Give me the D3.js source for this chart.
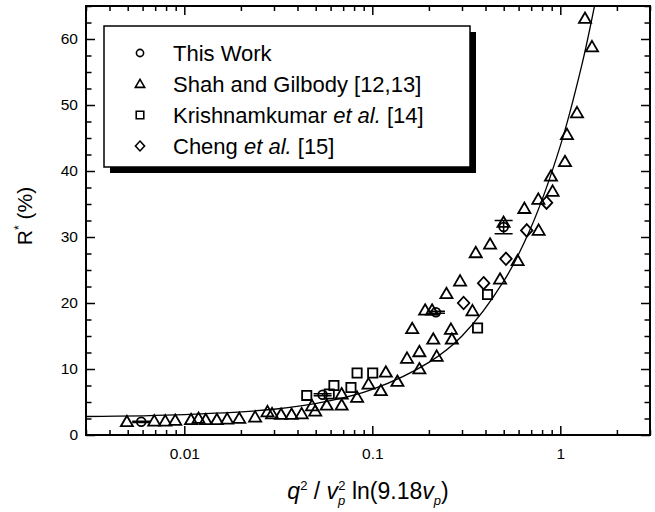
<!DOCTYPE html>
<html>
<head>
<meta charset="utf-8">
<script src="https://cdn.jsdelivr.net/npm/d3@7"></script>
<style>
  body { margin: 0; background: #fff; }
  text { font-family: "Liberation Sans", Arial, Helvetica, sans-serif; fill: #000; }
</style>
</head>
<body>
<script>
// ---- data ----
const thisWorkX = [0.0059, 0.0544, 0.218, 0.4995];
const thisWorkR = [2.0, 6.1, 18.6, 31.5];
const thisWorkErr = [0.1, 0.15, 0.15, 1.0];

const shahX = [0.00495, 0.00692, 0.00792, 0.00895, 0.01086, 0.0119, 0.0130, 0.0149, 0.0169, 0.0196,
  0.0238, 0.0277, 0.0293, 0.0327, 0.0372, 0.0421, 0.0478, 0.0497, 0.0572, 0.0687,
  0.0687, 0.0830, 0.0955, 0.111, 0.118, 0.136, 0.153, 0.163, 0.178, 0.178,
  0.191, 0.208, 0.211, 0.220, 0.248, 0.262, 0.265, 0.293, 0.341, 0.355,
  0.423, 0.478, 0.499, 0.593, 0.644, 0.767, 0.764, 0.892, 0.910, 1.059,
  1.085, 1.227, 1.353, 1.474];
const shahR = [2.0, 2.1, 2.1, 2.2, 2.3, 2.5, 2.3, 2.3, 2.4, 2.5,
  2.7, 3.5, 3.2, 3.1, 3.1, 3.2, 4.4, 3.6, 4.5, 6.2,
  4.5, 5.7, 7.7, 6.7, 9.5, 8.1, 11.6, 16.1, 12.6, 10.0,
  18.9, 18.9, 14.5, 11.9, 21.4, 16.0, 14.5, 23.3, 18.8, 27.6,
  28.9, 23.6, 32.2, 26.4, 34.3, 31.0, 35.7, 39.2, 36.9, 41.4,
  45.5, 48.8, 63.1, 58.8];

const krishX = [0.0448, 0.059, 0.0625, 0.077, 0.083, 0.1005, 0.363, 0.410];
const krishR = [6.0, 6.2, 7.5, 7.2, 9.4, 9.4, 16.2, 21.3];

const chengX = [0.306, 0.391, 0.514, 0.663, 0.845];
const chengR = [20.0, 23.0, 26.7, 31.0, 35.2];

// points along the drawn fit curve
const fitX = [0.003, 0.01, 0.03, 0.06, 0.1, 0.2, 0.3, 0.5, 0.7, 1.0, 1.3, 1.52];
const fitR = [2.8, 3.1, 3.9, 5.2, 6.9, 11.0, 15.0, 23.3, 31.5, 43.8, 56.0, 65.0];

const xMajor = [0.01, 0.1, 1];
const yMajor = [0, 10, 20, 30, 40, 50, 60];
const legendLabels = ["This Work", "Shah and Gilbody [12,13]", "Krishnamkumar |et al.| [14]", "Cheng |et al.| [15]"];

// ---- layout ----
const W = 655, H = 512;
const mLeft = 86, mRight = 650, mTop = 6, mBottom = 435;

const svg = d3.select("body").append("svg")
  .attr("width", W)
  .attr("height", H);

const x = d3.scaleLog().domain([0.003, 3]).range([mLeft, mRight]);
const y = d3.scaleLinear().domain([0, 65]).range([mBottom, mTop]);

// minor tick values
const xMinor = [];
[0.001, 0.01, 0.1, 1].forEach(d => {
  for (let k = 2; k <= 9; k++) {
    const v = d * k;
    if (v >= 0.003 && v <= 3.0001) xMinor.push(v);
  }
});
const yMinor = d3.range(0, 65.1, 2.5).filter(v => v % 10 !== 0);

function tickAxis(axisFn, scale, values, size, pos, attr) {
  const g = svg.append("g")
    .attr("transform", attr === "x" ? `translate(0,${pos})` : `translate(${pos},0)`)
    .call(axisFn(scale).tickValues(values).tickSize(size).tickFormat(""));
  g.select(".domain").remove();
  g.selectAll("line").attr("stroke", "#000").attr("stroke-width", 1.5);
  return g;
}

// inward ticks on all four sides
tickAxis(d3.axisBottom, x, xMinor, -5, mBottom, "x");
tickAxis(d3.axisBottom, x, xMajor, -9, mBottom, "x");
tickAxis(d3.axisTop, x, xMinor, -5, mTop, "x");
tickAxis(d3.axisTop, x, xMajor, -9, mTop, "x");
tickAxis(d3.axisLeft, y, yMinor, -5.5, mLeft, "y");
tickAxis(d3.axisLeft, y, yMajor, -9, mLeft, "y");
tickAxis(d3.axisRight, y, yMinor, -5.5, mRight, "y");
tickAxis(d3.axisRight, y, yMajor, -9, mRight, "y");

// tick labels
const xLab = svg.append("g")
  .attr("transform", `translate(0,${mBottom})`)
  .call(d3.axisBottom(x).tickValues(xMajor).tickSize(0).tickPadding(13)
    .tickFormat(d => d3.format("")(d)));
xLab.select(".domain").remove();
xLab.selectAll("text").attr("font-size", 15.5).attr("font-family", null);

const yLab = svg.append("g")
  .attr("transform", `translate(${mLeft},0)`)
  .call(d3.axisLeft(y).tickValues(yMajor).tickSize(0).tickPadding(8));
yLab.select(".domain").remove();
yLab.selectAll("text").attr("font-size", 15.5).attr("font-family", null);

// frame
svg.append("rect")
  .attr("x", mLeft).attr("y", mTop)
  .attr("width", mRight - mLeft).attr("height", mBottom - mTop)
  .attr("fill", "none").attr("stroke", "#000").attr("stroke-width", 2);

// clip
svg.append("clipPath").attr("id", "plotClip")
  .append("rect").attr("x", mLeft).attr("y", mTop)
  .attr("width", mRight - mLeft).attr("height", mBottom - mTop);

const plot = svg.append("g").attr("clip-path", "url(#plotClip)");

// fit curve
const fitLine = d3.line()
  .x(d => x(d[0]))
  .y(d => y(d[1]))
  .curve(d3.curveCatmullRom);
plot.append("path")
  .datum(d3.zip(fitX, fitR))
  .attr("d", fitLine)
  .attr("fill", "none")
  .attr("stroke", "#000")
  .attr("stroke-width", 1.3);

// marker shapes
const shapes = {
  circle: s => { const r = s * 0.4; return `M${-r},0A${r},${r} 0 1,0 ${r},0A${r},${r} 0 1,0 ${-r},0Z`; },
  triangle: s => `M0,${-s * 0.55}L${s * 0.55},${s * 0.4}L${-s * 0.55},${s * 0.4}Z`,
  square: s => `M${-s * 0.42},${-s * 0.42}h${s * 0.84}v${s * 0.84}h${-s * 0.84}Z`,
  diamond: s => `M0,${-s * 0.52}L${s * 0.48},0L0,${s * 0.52}L${-s * 0.48},0Z`
};

function drawSeries(xs, rs, shape, size) {
  plot.append("g")
    .selectAll("path")
    .data(d3.zip(xs, rs))
    .join("path")
    .attr("transform", d => `translate(${x(d[0])},${y(d[1])})`)
    .attr("d", shapes[shape](size))
    .attr("fill", "none")
    .attr("stroke", "#000")
    .attr("stroke-width", 1.8);
}

drawSeries(shahX, shahR, "triangle", 11);
drawSeries(krishX, krishR, "square", 11);
drawSeries(chengX, chengR, "diamond", 12);

// this work: circles with error bars
const tw = plot.append("g");
const twData = d3.zip(thisWorkX, thisWorkR, thisWorkErr);
tw.selectAll("path.err")
  .data(twData)
  .join("path")
  .attr("class", "err")
  .attr("d", d => {
    const cx = x(d[0]), y1 = y(d[1] + d[2]), y2 = y(d[1] - d[2]);
    return `M${cx - 9},${y1}h18M${cx - 9},${y2}h18M${cx},${y1}V${y2}`;
  })
  .attr("fill", "none")
  .attr("stroke", "#000")
  .attr("stroke-width", 1.5);
tw.selectAll("path.pt")
  .data(twData)
  .join("path")
  .attr("class", "pt")
  .attr("transform", d => `translate(${x(d[0])},${y(d[1])})`)
  .attr("d", shapes.circle(11))
  .attr("fill", "none")
  .attr("stroke", "#000")
  .attr("stroke-width", 1.8);

// legend
const lg = svg.append("g").attr("transform", "translate(104,26)");
const lgW = 366, lgH = 141;
lg.append("rect").attr("x", 6).attr("y", 6).attr("width", lgW).attr("height", lgH).attr("fill", "#000");
lg.append("rect").attr("width", lgW).attr("height", lgH)
  .attr("fill", "#fff").attr("stroke", "#000").attr("stroke-width", 1.5);
const lgShapes = ["circle", "triangle", "square", "diamond"];
const lgSizes = [9, 8.5, 9, 9.5];
legendLabels.forEach((lab, i) => {
  const ry = 27 + i * 31;
  lg.append("path")
    .attr("transform", `translate(36,${ry})`)
    .attr("d", shapes[lgShapes[i]](lgSizes[i]))
    .attr("fill", "none").attr("stroke", "#000").attr("stroke-width", 1.6);
  const t = lg.append("text").attr("x", 69).attr("y", ry + 8).attr("font-size", 22);
  lab.split("|").forEach((part, j) => {
    t.append("tspan").attr("font-style", j % 2 ? "italic" : null).text(part);
  });
});

// x title
const xt = svg.append("text")
  .attr("x", (mLeft + mRight) / 2).attr("y", 499)
  .attr("text-anchor", "middle").attr("font-size", 23);
xt.append("tspan").attr("font-style", "italic").text("q");
xt.append("tspan").attr("font-size", 13).attr("dy", -9).text("2");
xt.append("tspan").attr("dy", 9).text(" / ");
xt.append("tspan").attr("font-style", "italic").text("v");
xt.append("tspan").attr("font-size", 13).attr("font-style", "italic").attr("dy", 6).text("p");
xt.append("tspan").attr("font-size", 13).attr("dx", -7).attr("dy", -15).text("2");
xt.append("tspan").attr("dy", 9).text(" ln(9.18");
xt.append("tspan").attr("font-style", "italic").text("v");
xt.append("tspan").attr("font-size", 13).attr("font-style", "italic").attr("dy", 6).text("p");
xt.append("tspan").attr("dy", -6).text(")");

// y title
const yt = svg.append("text")
  .attr("transform", "translate(32,216) rotate(-90)")
  .attr("text-anchor", "middle").attr("font-size", 21);
yt.append("tspan").text("R");
yt.append("tspan").attr("font-size", 12).attr("dy", -9).text("*");
yt.append("tspan").attr("dy", 9).text(" (%)");
</script>
</body>
</html>
